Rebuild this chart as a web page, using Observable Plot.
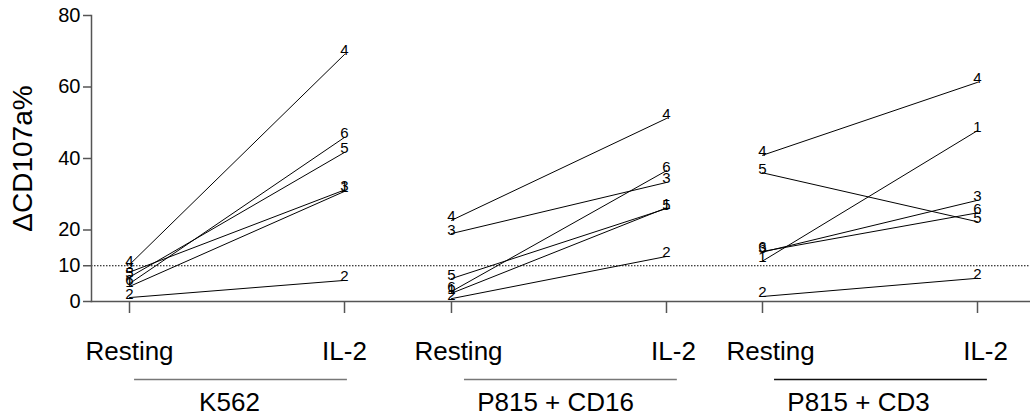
<!DOCTYPE html>
<html>
<head>
<meta charset="utf-8">
<script src="https://cdn.jsdelivr.net/npm/d3@7"></script>
<script src="https://cdn.jsdelivr.net/npm/@observablehq/plot@0.6"></script>
<style>
  html, body { margin: 0; padding: 0; background: white; }
</style>
</head>
<body>
<div id="chart"></div>
<script>
// ---- data ----
const groups = ["K562", "P815 + CD16", "P815 + CD3"];
const conditions = ["Resting", "IL-2"];
const donors = ["1", "2", "3", "4", "5", "6"];
const k562Resting = [4.2, 1.1, 8.2, 10.3, 6.8, 5.0];
const k562IL2     = [30.8, 5.9, 31.2, 69.1, 41.7, 45.9];
const cd16Resting = [2.3, 0.8, 19.0, 22.7, 6.4, 2.8];
const cd16IL2     = [26.2, 12.6, 33.3, 51.2, 26.0, 36.6];
const cd3Resting  = [11.3, 1.4, 13.8, 40.9, 36.0, 14.0];
const cd3IL2      = [47.8, 6.5, 28.3, 61.3, 22.3, 24.8];
const yTicks = [0, 10, 20, 40, 60, 80];
const threshold = 10;
const yTitle = "ΔCD107a%";

// ---- layout (x in units of the linear x scale) ----
const groupOffset = [0, 2.995, 5.888];
const condStep = 2;
const condLabelShift = [0, 0.065, 0.075];
const underlineStart = [0.047, 0.121, 0.112];
const underlineLen = 1.98;
const groupLabelCenter = [0.93, 0.968, 0.893];

const series = [[k562Resting, k562IL2], [cd16Resting, cd16IL2], [cd3Resting, cd3IL2]];
const rows = [];
series.forEach(([rest, il2], g) => {
  donors.forEach((d, j) => {
    rows.push({group: groups[g], donor: d, cond: conditions[0], u: groupOffset[g], value: rest[j]});
    rows.push({group: groups[g], donor: d, cond: conditions[1], u: groupOffset[g] + condStep, value: il2[j]});
  });
});
const tickPositions = [];
const condLabels = [];
groups.forEach((g, i) => {
  conditions.forEach((c, k) => {
    tickPositions.push(groupOffset[i] + k * condStep);
    condLabels.push({label: c, u: groupOffset[i] + k * condStep + condLabelShift[i]});
  });
});
const groupRows = groups.map((g, i) => ({
  label: g,
  x1: groupOffset[i] + underlineStart[i],
  x2: groupOffset[i] + underlineStart[i] + underlineLen,
  xc: groupOffset[i] + groupLabelCenter[i],
  color: i === 2 ? "#111" : "#777"
}));

const chart = Plot.plot({
  width: 1030,
  height: 418,
  marginLeft: 91,
  marginRight: 0,
  marginTop: 15,
  marginBottom: 117,
  style: {fontFamily: "'Liberation Sans', Arial, Helvetica, sans-serif", background: "white", color: "black"},
  x: {type: "linear", domain: [-0.3535, 8.381], axis: null},
  y: {domain: [0, 80], axis: null},
  marks: [
    Plot.ruleY([threshold], {stroke: "#000", strokeWidth: 1, strokeDasharray: "1.5,1.5"}),
    Plot.frame({anchor: "left", stroke: "#555", strokeWidth: 1.5}),
    Plot.frame({anchor: "bottom", stroke: "#555", strokeWidth: 1.5}),
    Plot.axisY({ticks: yTicks, tickSize: 8, tickPadding: 3, fontSize: 20, stroke: "#555", strokeWidth: 1.5, label: null}),
    Plot.axisX({ticks: tickPositions, tickSize: 12, tickFormat: () => "", stroke: "#555", strokeWidth: 1.5, label: null}),
    Plot.line(rows, {x: "u", y: "value", z: d => d.group + d.donor, stroke: "black", strokeWidth: 1}),
    Plot.text(rows, {x: "u", y: "value", text: "donor", lineAnchor: "bottom", fontSize: 15, dy: 1, fill: "black"}),
    Plot.text([yTitle], {frameAnchor: "left", textAnchor: "middle", lineAnchor: "middle", rotate: -90, dx: -68, fontSize: 28, fill: "black"}),
    Plot.text(condLabels, {x: "u", text: "label", frameAnchor: "bottom", lineAnchor: "top", dy: 40, fontSize: 26, fill: "black"}),
    Plot.ruleY(groupRows, {y: () => 0, x1: "x1", x2: "x2", dy: 78, stroke: "color", strokeWidth: 1.5}),
    Plot.text(groupRows, {x: "xc", text: "label", frameAnchor: "bottom", lineAnchor: "top", dy: 91, fontSize: 26, fill: "black"})
  ]
});
document.getElementById("chart").appendChild(chart);
</script>
</body>
</html>
